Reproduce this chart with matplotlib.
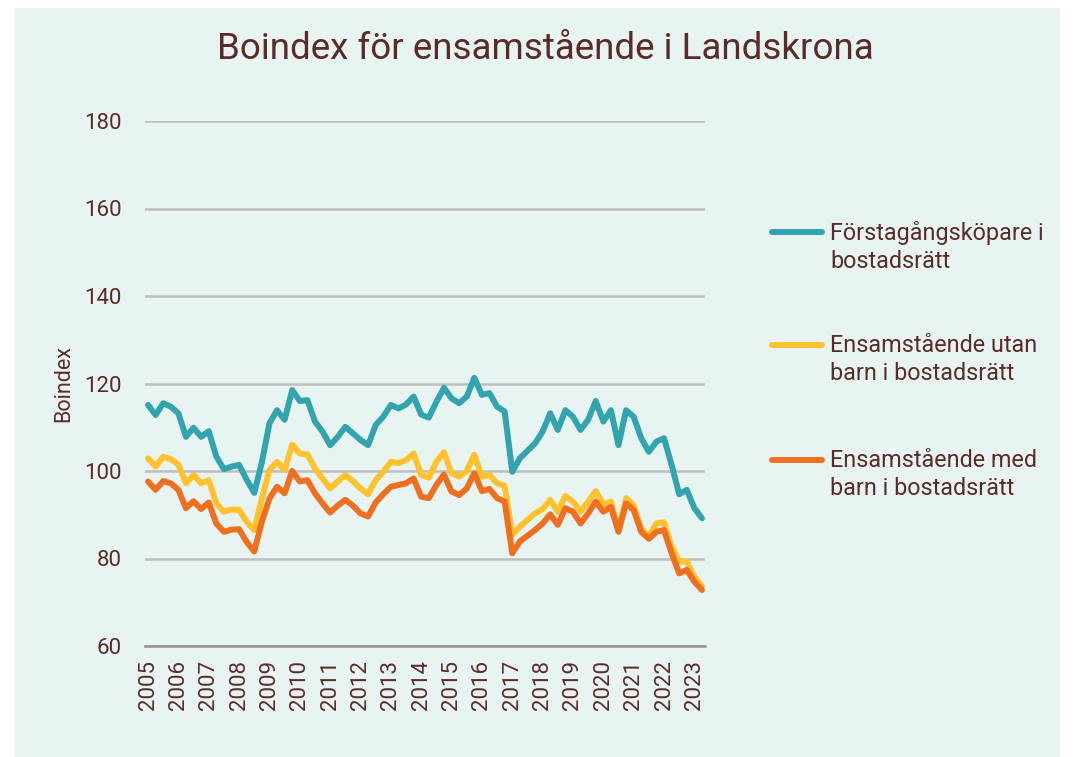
import numpy as np
import matplotlib
matplotlib.use("Agg")
import matplotlib.pyplot as plt
from matplotlib.patches import Rectangle
from matplotlib.lines import Line2D

plt.rcParams['font.family'] = ['Roboto', 'DejaVu Sans']

# Quarterly index, 2005 Q1 - 2023 Q2
years = list(range(2005, 2024))

forstagang = [115.1, 112.8, 115.5, 114.7, 113.2, 107.8, 109.9, 107.8, 109.1, 103.3,
              100.4, 101.0, 101.4, 98.0, 95.0, 102.0, 110.9, 113.9, 111.7, 118.5,
              116.0, 116.2, 111.3, 109.0, 105.9, 107.8, 110.1, 108.6, 107.1, 105.9,
              110.5, 112.4, 115.1, 114.3, 115.2, 117.0, 112.9, 112.2, 115.8, 119.0,
              116.6, 115.5, 117.0, 121.3, 117.4, 117.8, 114.7, 113.6, 99.8, 102.9,
              104.6, 106.3, 109.0, 113.2, 109.4, 113.9, 112.4, 109.4, 111.7, 116.0,
              111.3, 113.9, 105.9, 113.9, 112.4, 107.5, 104.4, 106.7, 107.5, 101.4,
              94.7, 95.7, 91.5, 89.2]

utan_barn = [102.9, 101.0, 103.3, 102.7, 101.5, 97.2, 99.1, 97.2, 97.9, 92.6,
             90.7, 91.2, 91.1, 88.4, 86.5, 93.7, 100.2, 102.1, 100.2, 106.0,
             104.0, 103.8, 100.6, 98.3, 96.0, 97.6, 99.1, 97.7, 96.0, 94.7,
             97.9, 99.8, 102.1, 101.8, 102.5, 104.0, 99.1, 98.5, 102.1, 104.3,
             99.5, 98.7, 100.0, 103.7, 98.7, 99.1, 97.2, 96.6, 85.4, 87.3,
             88.8, 90.3, 91.3, 93.4, 90.7, 94.3, 93.0, 90.7, 93.0, 95.4,
             92.4, 93.0, 86.5, 93.8, 92.2, 86.9, 85.0, 88.0, 88.3, 82.7,
             79.3, 79.3, 75.8, 73.6]

med_barn = [97.6, 95.7, 97.7, 97.2, 95.7, 91.5, 93.1, 91.3, 92.8, 88.0,
            86.1, 86.6, 86.7, 83.8, 81.6, 88.4, 93.7, 96.4, 94.9, 100.0,
            97.6, 97.9, 94.9, 92.6, 90.5, 92.1, 93.4, 92.1, 90.3, 89.6,
            92.8, 94.7, 96.4, 96.8, 97.2, 98.3, 94.1, 93.8, 96.8, 99.2,
            95.3, 94.5, 96.0, 99.5, 95.4, 95.9, 93.8, 93.0, 81.2, 83.9,
            85.2, 86.5, 88.0, 90.1, 87.7, 91.5, 90.7, 88.0, 90.3, 93.0,
            90.7, 91.8, 86.1, 92.6, 91.1, 86.1, 84.5, 86.1, 86.5, 81.2,
            76.6, 77.4, 74.7, 72.8]

labels = ["Förstagångsköpare i\nbostadsrätt",
          "Ensamstående utan\nbarn i bostadsrätt",
          "Ensamstående med\nbarn i bostadsrätt"]
colors = ["#31A4AF", "#FFC12C", "#EE6F20"]
series = [forstagang, utan_barn, med_barn]

text_color = "#5B2B29"
bg = "#E8F4F1"

fig = plt.figure(figsize=(10.74, 7.57), dpi=100, facecolor="white")
fig.patches.append(Rectangle((15 / 1074, 0), 1045 / 1074, 749 / 757,
                             transform=fig.transFigure, facecolor=bg,
                             edgecolor="none", zorder=-10))

ax = fig.add_axes([145 / 1074, 1 - 646 / 757, 560 / 1074, 525 / 757])
ax.set_facecolor("none")

x = np.arange(len(forstagang))
for vals, c in zip(series, colors):
    ax.plot(x, vals, color=c, lw=4.3, solid_joinstyle="round",
            solid_capstyle="round", zorder=3)

ax.set_ylim(60, 180)
ax.set_yticks(range(60, 181, 20))
ax.set_xlim(-0.4, len(x) - 0.6)
ax.set_xticks(np.arange(0, len(x), 4))
ax.set_xticklabels([str(y) for y in years], rotation=90)

ax.grid(axis="y", color="#BEBEBE", lw=1.8)
ax.set_axisbelow(True)
for side in ["top", "right", "left"]:
    ax.spines[side].set_visible(False)
ax.spines["bottom"].set_color("#988F8F")
ax.spines["bottom"].set_linewidth(1.8)
ax.tick_params(axis="both", length=0, labelsize=16, colors=text_color)
ax.tick_params(axis="y", pad=17)
ax.tick_params(axis="x", pad=10)

ax.set_ylabel("Boindex", fontsize=15.5, color=text_color, labelpad=7)

fig.text(545 / 1074, 1 - 49 / 757, "Boindex för ensamstående i Landskrona",
         ha="center", va="center", fontsize=26.5, color=text_color)

# legend drawn by hand on the right
legend_y = [232, 345, 460]
for lab, c, yy in zip(labels, colors, legend_y):
    yf = 1 - yy / 757
    fig.add_artist(Line2D([772 / 1074, 822 / 1074], [yf, yf], color=c, lw=4.3,
                          solid_capstyle="round", transform=fig.transFigure))
    fig.text(830 / 1074, 1 - (yy - 11) / 757, lab, ha="left", va="top",
             fontsize=16.8, color=text_color, linespacing=1.3)

fig.savefig("out.png", dpi=100, facecolor="white")
